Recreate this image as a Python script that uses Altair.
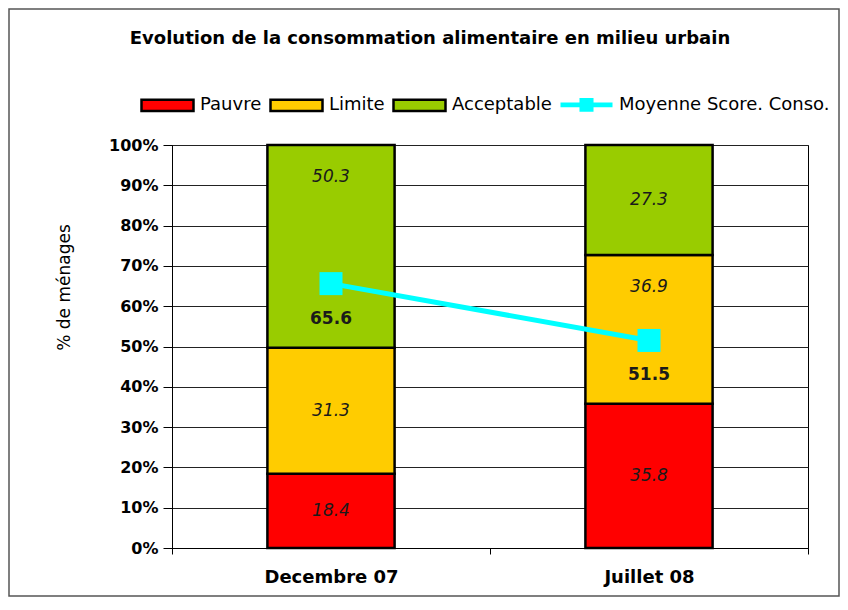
import altair as alt
import pandas as pd

# ---- data ----
periodes = ["Decembre 07", "Juillet 08"]
categories = ["Pauvre", "Limite", "Acceptable"]
pauvre = [18.4, 35.8]
limite = [31.3, 36.9]
acceptable = [50.3, 27.3]
score_moyen = [65.6, 51.5]
serie_ligne = "Moyenne Score. Conso."
couleurs = ["#FF0000", "#FFCC00", "#99CC00", "#00FFFF"]
axe_y_valeurs = [0, 10, 20, 30, 40, 50, 60, 70, 80, 90, 100]

FONT = "DejaVu Sans"

# ---- tables built from the arrays ----
rows = []
for i, p in enumerate(periodes):
    debut = 0.0
    for cat, vals in zip(categories, [pauvre, limite, acceptable]):
        v = vals[i]
        fin = debut + v
        rows.append(dict(periode=p, serie=cat, valeur=v, debut=debut, fin=fin,
                         ligne=score_moyen[i]))
        debut = fin
bars_df = pd.DataFrame(rows)
# label centred in its segment, moved near the top when the score line crosses it
bars_df["pos_label"] = [
    (r.fin - 8) if (r.debut <= r.ligne <= r.fin) else (r.debut + r.fin) / 2
    for r in bars_df.itertuples()
]
bars_df["texte"] = bars_df["valeur"].map(lambda v: f"{v:.1f}")

ligne_df = pd.DataFrame({"periode": periodes, "score": score_moyen,
                         "serie": [serie_ligne] * len(periodes)})
ligne_df["texte"] = ligne_df["score"].map(lambda v: f"{v:.1f}")

cadre_df = pd.DataFrame({"c": [0]})

# ---- shared encodings ----
x_enc = alt.X(
    "periode:N",
    sort=periodes,
    scale=alt.Scale(domain=periodes, paddingInner=0, paddingOuter=0),
    axis=alt.Axis(title=None, labelAngle=0, tickBand="extent", tickSize=6,
                  tickColor="black", domainColor="black", labelFont=FONT,
                  labelFontSize=18, labelFontWeight="bold", labelColor="black",
                  labelPadding=14),
)
y_scale = alt.Scale(domain=[0, 100], nice=False, zero=True)

is_ligne = "datum.value == '" + serie_ligne + "'"
legende = alt.Legend(
    title=None,
    orient="none",
    legendX=-32,
    legendY=-68,
    direction="horizontal",
    labelFont=FONT,
    labelFontSize=18,
    labelColor="black",
    labelOffset=5,
    labelLimit=400,
    columnPadding=3,
    symbolSize=2704,
    symbolType=alt.ExprRef(expr=is_ligne + " ? "
                           "'M-1,-0.09H1V0.09H-1Z M-0.27,-0.26H0.27V0.26H-0.27Z' : "
                           "'M-1,-0.22H1V0.22H-1Z'"),
    symbolStrokeColor=alt.ExprRef(expr=is_ligne + " ? 'transparent' : 'black'"),
    symbolStrokeWidth=2.5,
    symbolOpacity=1,
)
color_enc = alt.Color(
    "serie:N",
    scale=alt.Scale(domain=categories + [serie_ligne], range=couleurs),
    legend=legende,
)

barres = alt.Chart(bars_df).mark_bar(
    width=alt.RelativeBandSize(0.4), stroke="black", strokeWidth=2.5
).encode(
    x=x_enc,
    y=alt.Y("debut:Q", scale=y_scale,
            axis=alt.Axis(values=axe_y_valeurs, labelExpr="datum.value + '%'",
                          title="% de ménages", grid=True, gridColor="#222222",
                          gridWidth=1, gridOpacity=1, tickSize=9,
                          tickColor="black", domainColor="black",
                          labelFont=FONT, labelFontSize=16,
                          labelFontWeight="bold", labelColor="black",
                          labelPadding=5, titleFont=FONT, titleFontSize=17,
                          titleFontWeight="normal", titleColor="black",
                          titleAngle=270, titleAlign="center",
                          titleBaseline="bottom", titleX=-99, titleY=142)),
    y2="fin:Q",
    color=color_enc,
)

etiquettes = alt.Chart(bars_df).mark_text(
    font=FONT, fontSize=17, fontStyle="italic", color="#1a1a1a",
    baseline="middle", align="center"
).encode(
    x=alt.X("periode:N", sort=periodes),
    y=alt.Y("pos_label:Q", scale=y_scale),
    text="texte:N",
)

ligne = alt.Chart(ligne_df).mark_line(strokeWidth=5, color="#00FFFF").encode(
    x=alt.X("periode:N", sort=periodes),
    y=alt.Y("score:Q", scale=y_scale),
)

points = alt.Chart(ligne_df).mark_point(
    shape="square", size=529, filled=True, opacity=1, color="#00FFFF"
).encode(
    x=alt.X("periode:N", sort=periodes),
    y=alt.Y("score:Q", scale=y_scale),
)

etiq_ligne = alt.Chart(ligne_df).mark_text(
    font=FONT, fontSize=17, fontWeight="bold", color="#1a1a1a", dy=35,
    baseline="middle", align="center"
).encode(
    x=alt.X("periode:N", sort=periodes),
    y=alt.Y("score:Q", scale=y_scale),
    text="texte:N",
)

cadre = alt.Chart(cadre_df).mark_rect(
    fill="transparent", stroke="#555555", strokeWidth=1.5
).encode(
    x=alt.value(-163), x2=alt.value(667),
    y=alt.value(-136), y2=alt.value(451),
)

chart = alt.layer(cadre, barres, etiquettes, ligne, points, etiq_ligne).properties(
    width=636,
    height=403,
    autosize="none",
    padding={"left": 164, "top": 137, "right": 32, "bottom": 52},
    title=alt.TitleParams(
        "Evolution de la consommation alimentaire en milieu urbain",
        font=FONT, fontSize=18, fontWeight="bold", color="black",
        anchor="middle", frame="group", dx=-60, offset=-54,
        baseline="alphabetic",
    ),
).resolve_scale(y="shared").configure_view(stroke="black", strokeWidth=1)

chart.save("out.html", embed_options={"renderer": "svg", "actions": False})
